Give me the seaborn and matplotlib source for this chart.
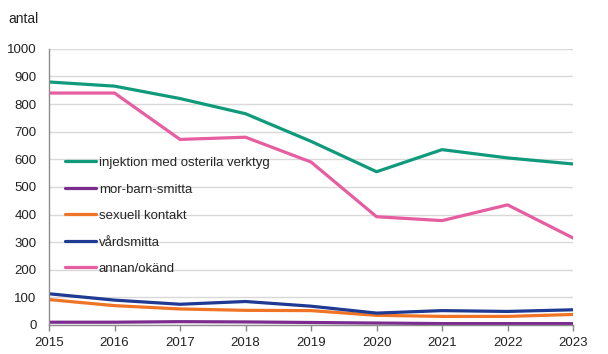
import numpy as np
import pandas as pd
import seaborn as sns
import matplotlib.pyplot as plt

years = [2015, 2016, 2017, 2018, 2019, 2020, 2021, 2022, 2023]
injektion = [880, 865, 820, 765, 665, 555, 635, 605, 583]
mor_barn = [10, 10, 12, 11, 9, 7, 5, 5, 5]
sexuell = [92, 70, 58, 53, 52, 35, 31, 31, 38]
vard = [113, 90, 75, 85, 68, 43, 52, 49, 55]
annan = [840, 840, 672, 680, 590, 392, 378, 435, 315]

labels = ["injektion med osterila verktyg", "mor-barn-smitta", "sexuell kontakt",
          "vårdsmitta", "annan/okänd"]
colors = ["#109A7C", "#7B2C8E", "#EF7425", "#1E3A92", "#E65DA0"]

df = pd.DataFrame({"år": years, labels[0]: injektion, labels[1]: mor_barn,
                   labels[2]: sexuell, labels[3]: vard, labels[4]: annan})
long = df.melt(id_vars="år", var_name="smittväg", value_name="antal")

sns.set_style("white")
plt.rcParams["font.family"] = ["Liberation Sans", "DejaVu Sans"]

fig = plt.figure(figsize=(6.08, 3.54), dpi=100)
ax = fig.add_axes([0.0806, 0.082, 0.862, 0.780])

sns.lineplot(data=long, x="år", y="antal", hue="smittväg", hue_order=labels,
             palette=colors, linewidth=2.3, ax=ax)

ax.set_xlim(2015, 2023)
ax.set_ylim(0, 1000)
ax.set_xticks(years)
ax.set_yticks(range(0, 1001, 100))
ax.tick_params(axis="both", labelsize=9.5, colors="#222222")
ax.tick_params(axis="x", direction="out", length=4, width=1, color="#888888",
               bottom=True, pad=4.5)
ax.tick_params(axis="y", length=0, pad=9)
ax.grid(axis="y", color="#d9d9d9", linewidth=1)
ax.set_axisbelow(True)
for s in ["top", "right"]:
    ax.spines[s].set_visible(False)
for s in ["left", "bottom"]:
    ax.spines[s].set_color("#8c8c8c")
    ax.spines[s].set_linewidth(1)
ax.set_xlabel("")
ax.set_ylabel("")
fig.text(0.013, 0.945, "antal", fontsize=10, color="#222222", va="center")

ax.legend(loc="upper left", bbox_to_anchor=(0.021, 0.628), frameon=False,
          fontsize=9.5, handlelength=2.35, handletextpad=0.2, labelspacing=1.08,
          borderaxespad=0)

fig.savefig("out.png", dpi=100)
